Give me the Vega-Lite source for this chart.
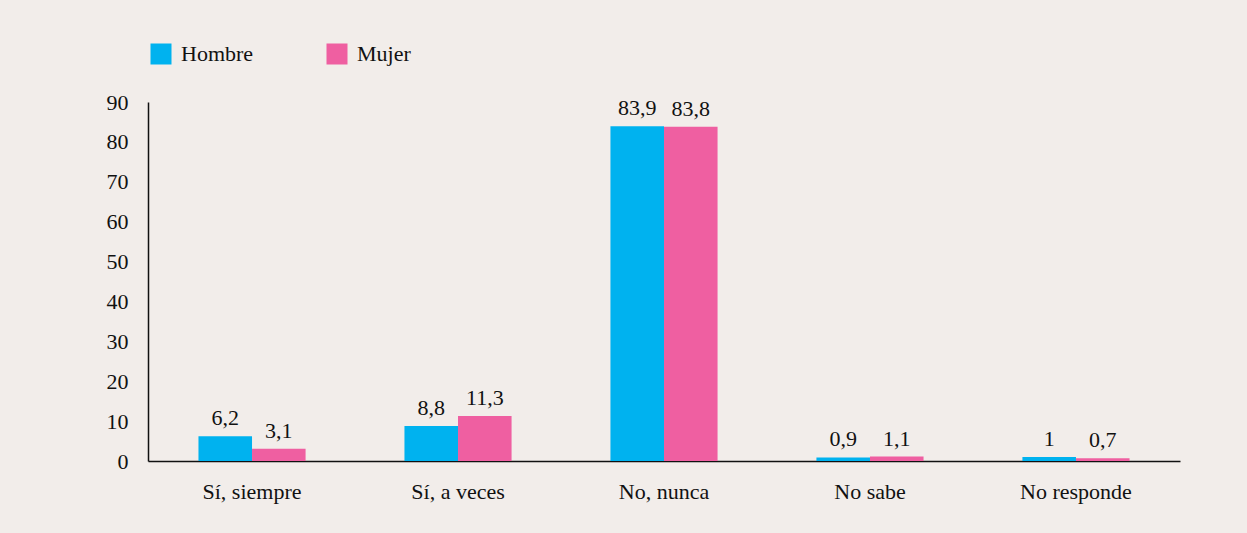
{
  "$schema": "https://vega.github.io/schema/vega-lite/v6.json",
  "width": 1032,
  "height": 359,
  "autosize": {"type": "none"},
  "padding": {"left": 148, "top": 102, "right": 67, "bottom": 72},
  "background": "#f2edea",
  "config": {
    "font": "Liberation Serif",
    "view": {"stroke": null},
    "locale": {"number": {"decimal": ",", "thousands": ".", "grouping": [3], "currency": ["", " €"]}}
  },
  "data": {
    "values": [
      {"categoria": "Sí, siempre", "sexo": "Hombre", "valor": 6.2},
      {"categoria": "Sí, siempre", "sexo": "Mujer", "valor": 3.1},
      {"categoria": "Sí, a veces", "sexo": "Hombre", "valor": 8.8},
      {"categoria": "Sí, a veces", "sexo": "Mujer", "valor": 11.3},
      {"categoria": "No, nunca", "sexo": "Hombre", "valor": 83.9},
      {"categoria": "No, nunca", "sexo": "Mujer", "valor": 83.8},
      {"categoria": "No sabe", "sexo": "Hombre", "valor": 0.9},
      {"categoria": "No sabe", "sexo": "Mujer", "valor": 1.1},
      {"categoria": "No responde", "sexo": "Hombre", "valor": 1},
      {"categoria": "No responde", "sexo": "Mujer", "valor": 0.7}
    ]
  },
  "encoding": {
    "x": {
      "field": "categoria",
      "type": "nominal",
      "sort": ["Sí, siempre", "Sí, a veces", "No, nunca", "No sabe", "No responde"],
      "scale": {"paddingInner": 0.48, "paddingOuter": 0.245},
      "axis": {
        "title": null,
        "labelAngle": 0,
        "labelFontSize": 22,
        "labelColor": "#111111",
        "labelPadding": 20,
        "ticks": false,
        "tickSize": 0,
        "domainColor": "#111111",
        "domainWidth": 1.5
      }
    },
    "xOffset": {"field": "sexo", "type": "nominal", "sort": ["Hombre", "Mujer"]},
    "y": {
      "field": "valor",
      "type": "quantitative",
      "scale": {"domain": [0, 90], "nice": false},
      "axis": {
        "title": null,
        "values": [0, 10, 20, 30, 40, 50, 60, 70, 80, 90],
        "grid": false,
        "ticks": false,
        "tickSize": 0,
        "labelPadding": 20,
        "labelFontSize": 22,
        "labelColor": "#111111",
        "domainColor": "#111111",
        "domainWidth": 1.5
      }
    }
  },
  "layer": [
    {
      "mark": {"type": "bar"},
      "encoding": {
        "color": {
          "field": "sexo",
          "type": "nominal",
          "scale": {"domain": ["Hombre", "Mujer"], "range": ["#00b2ef", "#ef5fa1"]},
          "legend": {
            "title": null,
            "orient": "none",
            "direction": "horizontal",
            "legendX": 2,
            "legendY": -59,
            "padding": 0,
            "symbolType": "square",
            "symbolSize": 441,
            "symbolStrokeWidth": 0,
            "symbolOpacity": 1,
            "labelFontSize": 22,
            "labelColor": "#111111",
            "labelOffset": 9,
            "columnPadding": 72
          }
        }
      }
    },
    {
      "mark": {"type": "text", "baseline": "bottom", "dy": -6, "fontSize": 22, "color": "#111111"},
      "encoding": {
        "text": {"field": "valor", "type": "quantitative", "format": ".1~f"}
      }
    }
  ]
}
